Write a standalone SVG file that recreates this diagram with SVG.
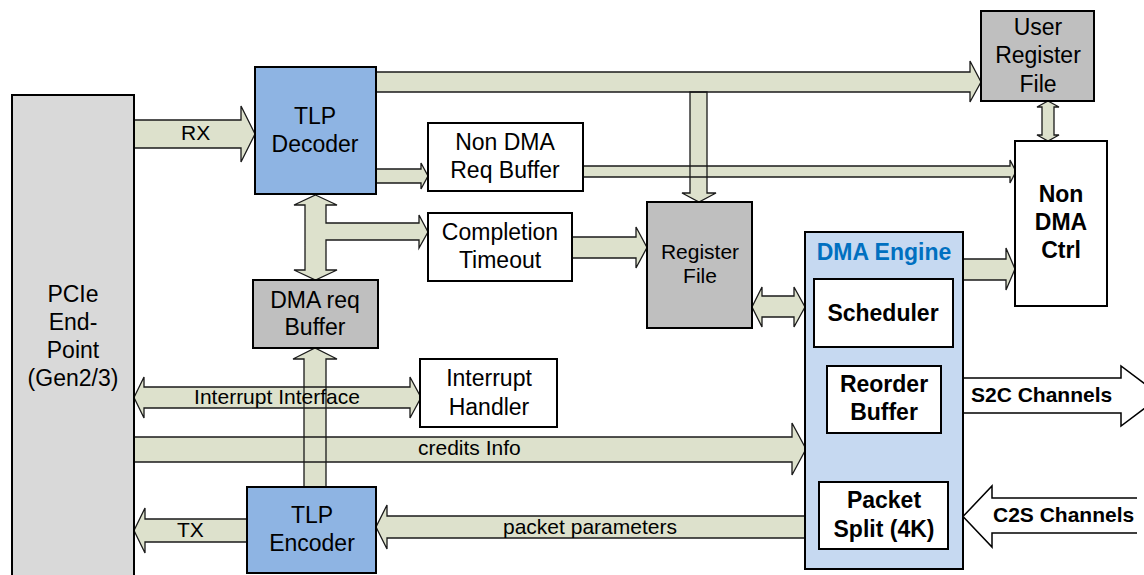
<svg xmlns="http://www.w3.org/2000/svg" xmlns:xlink="http://www.w3.org/1999/xlink" width="1144" height="575" viewBox="0 0 1144 575">
<style>
  .box{stroke:#000;stroke-width:2}
  .white{fill:#fff}
  .gray{fill:#bfbfbf}
  .light{fill:#d9d9d9}
  .blue{fill:#8eb4e3}
  .pale{fill:#c6d9f1}
  .cf{fill:#dde1cc;stroke:none}
  .cs{fill:none;stroke:#1a1a1a;stroke-width:1.3;stroke-linejoin:miter}
  .ch{fill:#fff;stroke:#000;stroke-width:1.5}
  text{font-family:"Liberation Sans",Arial,sans-serif;fill:#000}
  .t{font-size:23px;text-anchor:middle}
  .ts{font-size:21px;text-anchor:middle}
  .lb{font-size:21px}
  .b{font-size:23px;font-weight:bold;text-anchor:middle}
  .cl{font-size:21px;font-weight:bold}
  .eng{font-size:23px;font-weight:bold;text-anchor:middle;fill:#0070c0}
</style>
<defs>
  <path id="a-rx" d="M134,120 H241 V106 L255,134 L241,162 V148 H134 Z"/>
  <path id="a-top" d="M376,72 H970 V61 L981,82 L970,102 V92 H376 Z"/>
  <path id="a-branch" d="M690,92 H707 V193 H716 L699,202 L682,193 H690 Z"/>
  <path id="a-dec2nd" d="M376,169 H421 V163 L428,176 L421,189 V183 H376 Z"/>
  <path id="a-nd2ctrl" d="M583,166 H1010 V160 L1016,171.5 L1010,183 V177 H583 Z"/>
  <path id="a-t" d="M315.5,195 L337,205 H326 V223 H419 V215 L428,232 L419,248 V240 H326 V270 H337 L315.5,280 L294,270 H305 V205 H294 Z"/>
  <path id="a-ct2rf" d="M572,237 H636 V227 L647,247.5 L636,268 V258 H572 Z"/>
  <path id="a-enc2dma" d="M304,487 V359 H293 L315,348 L337,359 H326 V487 Z"/>
  <path id="a-intr" d="M134,397.5 L144,377 V387 H410 V377 L421,397.5 L410,418 V408 H144 V418 Z"/>
  <path id="a-credits" d="M134,437 H792 V423 L806,449 L792,475 V462 H134 Z"/>
  <path id="a-tx" d="M247,519 H145 V508 L134,530.5 L145,553 V542 H247 Z"/>
  <path id="a-pkt" d="M806,516 H387 V505 L376,527 L387,549 V538 H806 Z"/>
  <path id="a-rf2dma" d="M752,307 L762,287 V296 H794 V287 L805,307 L794,327 V317 H762 V327 Z"/>
  <path id="a-dma2ctrl" d="M963,259 H1006 V248 L1015,269 L1006,290 V280 H963 Z"/>
  <path id="a-urf2ctrl" d="M1048,101 L1059,107 H1054 V135 H1059 L1048,141 L1037,135 H1042 V107 H1037 Z"/>
</defs>

<g id="connectors">
  <g class="cf">
    <use xlink:href="#a-rx"/><use xlink:href="#a-top"/><use xlink:href="#a-branch"/>
    <use xlink:href="#a-dec2nd"/><use xlink:href="#a-nd2ctrl"/><use xlink:href="#a-t"/>
    <use xlink:href="#a-ct2rf"/><use xlink:href="#a-enc2dma"/><use xlink:href="#a-intr"/>
    <use xlink:href="#a-credits"/><use xlink:href="#a-tx"/><use xlink:href="#a-pkt"/>
    <use xlink:href="#a-rf2dma"/><use xlink:href="#a-dma2ctrl"/><use xlink:href="#a-urf2ctrl"/>
  </g>
  <g class="cs">
    <use xlink:href="#a-rx"/><use xlink:href="#a-top"/><use xlink:href="#a-branch"/>
    <use xlink:href="#a-dec2nd"/><use xlink:href="#a-nd2ctrl"/><use xlink:href="#a-t"/>
    <use xlink:href="#a-ct2rf"/><use xlink:href="#a-enc2dma"/><use xlink:href="#a-intr"/>
    <use xlink:href="#a-credits"/><use xlink:href="#a-tx"/><use xlink:href="#a-pkt"/>
    <use xlink:href="#a-rf2dma"/><use xlink:href="#a-dma2ctrl"/><use xlink:href="#a-urf2ctrl"/>
  </g>
  <path class="ch" d="M963,378 H1121 V366 L1161,396 L1121,426 V413 H963"/>
  <path class="ch" d="M1137,498 H992 V486 L963,516.5 L992,547 V533 H1137"/>
  <text class="lb" x="181" y="140">RX</text>
  <text class="lb" x="177" y="537">TX</text>
  <text class="ts" x="277" y="404">Interrupt Interface</text>
  <text class="lb" x="418" y="455">credits Info</text>
  <text class="lb" x="503" y="534">packet parameters</text>
  <text class="cl" x="971" y="402">S2C Channels</text>
  <text class="cl" x="993" y="522">C2S Channels</text>
</g>

<g id="pcie">
  <rect class="box light" x="12" y="95" width="122" height="490"/>
  <text class="t" x="73" y="302">PCIe</text>
  <text class="t" x="73" y="330">End-</text>
  <text class="t" x="73" y="358">Point</text>
  <text class="t" x="73" y="386">(Gen2/3)</text>
</g>
<g id="tlp-decoder">
  <rect class="box blue" x="255" y="67" width="121" height="127"/>
  <text class="t" x="315" y="124">TLP</text>
  <text class="t" x="315" y="152">Decoder</text>
</g>
<g id="non-dma-req-buffer">
  <rect class="box white" x="428" y="123" width="155" height="68"/>
  <text class="t" x="505" y="150">Non DMA</text>
  <text class="t" x="505" y="178">Req Buffer</text>
</g>
<g id="completion-timeout">
  <rect class="box white" x="428" y="213" width="144" height="68"/>
  <text class="t" x="500" y="240">Completion</text>
  <text class="t" x="500" y="268">Timeout</text>
</g>
<g id="register-file">
  <rect class="box gray" x="647" y="202" width="105" height="126"/>
  <text class="ts" x="700" y="259">Register</text>
  <text class="ts" x="700" y="283">File</text>
</g>
<g id="user-register-file">
  <rect class="box gray" x="981" y="11" width="113" height="90"/>
  <text class="t" x="1038" y="35">User</text>
  <text class="t" x="1038" y="63">Register</text>
  <text class="t" x="1038" y="92">File</text>
</g>
<g id="non-dma-ctrl">
  <rect class="box white" x="1015" y="141" width="92" height="165"/>
  <text class="b" x="1061" y="202">Non</text>
  <text class="b" x="1061" y="230">DMA</text>
  <text class="b" x="1061" y="258">Ctrl</text>
</g>
<g id="dma-req-buffer">
  <rect class="box gray" x="253" y="280" width="125" height="68"/>
  <text class="t" x="315" y="308">DMA req</text>
  <text class="t" x="315" y="335">Buffer</text>
</g>
<g id="interrupt-handler">
  <rect class="box white" x="420" y="359" width="137" height="68"/>
  <text class="t" x="489" y="386">Interrupt</text>
  <text class="t" x="489" y="415">Handler</text>
</g>
<g id="tlp-encoder">
  <rect class="box blue" x="247" y="487" width="129" height="86"/>
  <text class="t" x="312" y="523">TLP</text>
  <text class="t" x="312" y="551">Encoder</text>
</g>
<g id="dma-engine">
  <rect class="box pale" x="805" y="232" width="158" height="337"/>
  <text class="eng" x="884" y="260">DMA Engine</text>
</g>
<g id="scheduler">
  <rect class="box white" x="814" y="279" width="139" height="68"/>
  <text class="b" x="883" y="321">Scheduler</text>
</g>
<g id="reorder-buffer">
  <rect class="box white" x="827" y="366" width="114" height="67"/>
  <text class="b" x="884" y="392">Reorder</text>
  <text class="b" x="884" y="420">Buffer</text>
</g>
<g id="packet-split">
  <rect class="box white" x="819" y="482" width="129" height="67"/>
  <text class="b" x="884" y="508">Packet</text>
  <text class="b" x="884" y="537">Split (4K)</text>
</g>
</svg>
